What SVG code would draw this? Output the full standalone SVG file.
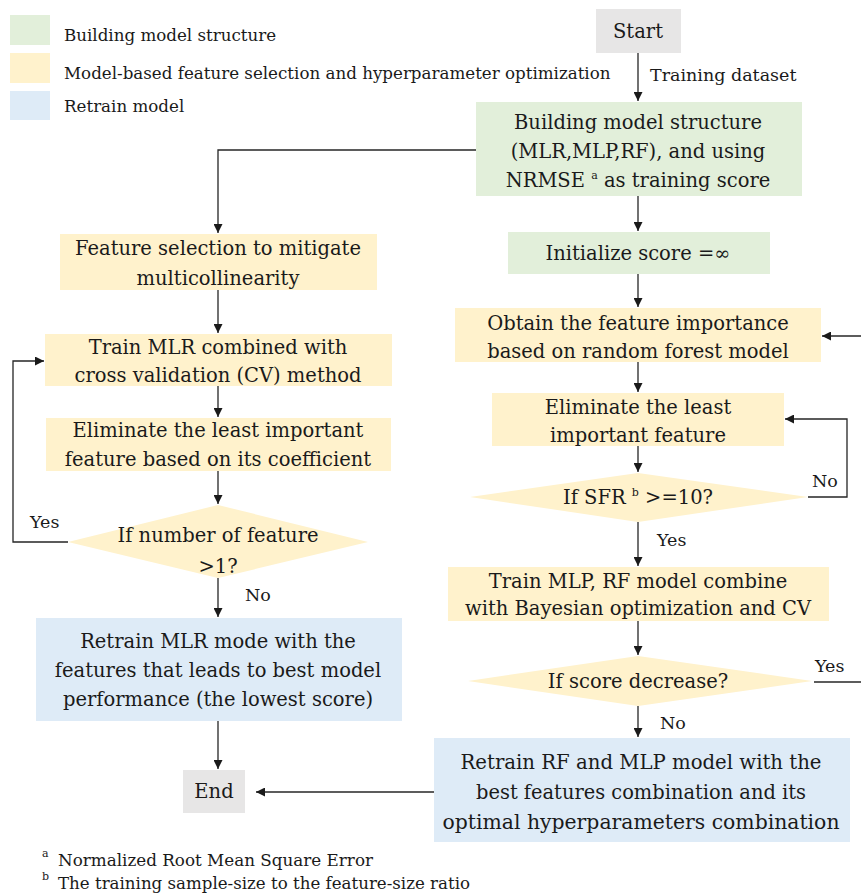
<svg xmlns="http://www.w3.org/2000/svg" width="861" height="896" viewBox="0 0 861 896">
<style>
text{fill:#1a1a1a;font-family:"DejaVu Serif","Liberation Serif",serif}
.t{font-size:19.5px;text-anchor:middle}
.lg{font-size:16.7px}
.lb{font-size:17.5px}
.g{fill:#e2efda}
.y{fill:#fff2cc}
.b{fill:#deebf7}
.s{fill:#e7e6e6}
.c path{fill:none;stroke:#262626;stroke-width:1.3}
.sup{font-size:11px}
</style>
<defs>
<marker id="ah" viewBox="0 0 10 10" refX="10" refY="5" markerWidth="9" markerHeight="9" markerUnits="userSpaceOnUse" orient="auto">
<path d="M0,0 L10,5 L0,10 z" fill="#1a1a1a"/>
</marker>
</defs>
<rect width="861" height="896" fill="#ffffff"/>
<g id="legend">
<rect class="g" x="10" y="15" width="40" height="30"/>
<rect class="y" x="10" y="53" width="40" height="30"/>
<rect class="b" x="10" y="91" width="40" height="29"/>
<text class="lg" x="64" y="41">Building model structure</text>
<text class="lg" x="64" y="79">Model-based feature selection and hyperparameter optimization</text>
<text class="lg" x="64" y="112">Retrain model</text>
</g>
<g class="c" id="connectors">
<path d="M638,53 V101" marker-end="url(#ah)"/>
<path d="M476,150 H218 V233" marker-end="url(#ah)"/>
<path d="M638,196 V231" marker-end="url(#ah)"/>
<path d="M638,274 V307" marker-end="url(#ah)"/>
<path d="M861,336 H822" marker-end="url(#ah)"/>
<path d="M638,362 V392" marker-end="url(#ah)"/>
<path d="M808,497 H847 V419 H785" marker-end="url(#ah)"/>
<path d="M638,446 V472" marker-end="url(#ah)"/>
<path d="M638,522 V566" marker-end="url(#ah)"/>
<path d="M638,621 V655" marker-end="url(#ah)"/>
<path d="M814,682 H861"/>
<path d="M638,706 V737" marker-end="url(#ah)"/>
<path d="M434,792 H256" marker-end="url(#ah)"/>
<path d="M218,290 V333" marker-end="url(#ah)"/>
<path d="M218,386 V417" marker-end="url(#ah)"/>
<path d="M218,471 V504" marker-end="url(#ah)"/>
<path d="M68,542 H13 V361 H44" marker-end="url(#ah)"/>
<path d="M218,578 V617" marker-end="url(#ah)"/>
<path d="M218,721 V769" marker-end="url(#ah)"/>
</g>
<g id="labels">
<text class="lb" x="650" y="81" font-size="15.5">Training dataset</text>
<text class="lb" x="30" y="528">Yes</text>
<text class="lb" x="245" y="601">No</text>
<text class="lb" x="812" y="487">No</text>
<text class="lb" x="657" y="546">Yes</text>
<text class="lb" x="815" y="672">Yes</text>
<text class="lb" x="660" y="729">No</text>
</g>
<g id="start">
<rect class="s" x="596" y="9" width="85" height="44"/>
<text class="t" x="638" y="38" font-size="19">Start</text>
</g>
<g id="build">
<rect class="g" x="476" y="102" width="326" height="94"/>
<text class="t" x="638" y="129">Building model structure</text>
<text class="t" x="638" y="158">(MLR,MLP,RF), and using</text>
<text class="t" x="638" y="187">NRMSE <tspan class="sup" dy="-8">a</tspan><tspan dy="8">  as training score</tspan></text>
</g>
<g id="init">
<rect class="g" x="508" y="232" width="262" height="42"/>
<text class="t" x="638" y="260">Initialize score =∞</text>
</g>
<g id="obtain">
<rect class="y" x="455" y="308" width="366" height="54"/>
<text class="t" x="638" y="330">Obtain the feature importance</text>
<text class="t" x="638" y="358">based  on random forest model</text>
</g>
<g id="elimR">
<rect class="y" x="492" y="393" width="292" height="53"/>
<text class="t" x="638" y="414">Eliminate the least</text>
<text class="t" x="638" y="442">important feature</text>
</g>
<g id="sfr">
<polygon class="y" points="470,497 638,473 808,497 638,522"/>
<text class="t" x="638" y="504">If SFR <tspan class="sup" dy="-8">b</tspan><tspan dy="8"> &gt;=10?</tspan></text>
</g>
<g id="trainMLP">
<rect class="y" x="448" y="567" width="381" height="54"/>
<text class="t" x="638" y="588">Train MLP, RF model combine</text>
<text class="t" x="638" y="615">with Bayesian optimization and CV</text>
</g>
<g id="score">
<polygon class="y" points="468,681 638,656 812,681 638,706"/>
<text class="t" x="638" y="688">If score decrease?</text>
</g>
<g id="retrainRF">
<rect class="b" x="434" y="738" width="416" height="104"/>
<text class="t" x="641" y="769" textLength="361" lengthAdjust="spacingAndGlyphs">Retrain RF and MLP model with the</text>
<text class="t" x="641" y="799" textLength="330" lengthAdjust="spacingAndGlyphs">best features combination and its</text>
<text class="t" x="641" y="829" textLength="397" lengthAdjust="spacingAndGlyphs">optimal hyperparameters combination</text>
</g>
<g id="featSel">
<rect class="y" x="60" y="234" width="317" height="56"/>
<text class="t" x="218" y="255">Feature selection to mitigate</text>
<text class="t" x="218" y="285">multicollinearity</text>
</g>
<g id="trainMLR">
<rect class="y" x="45" y="334" width="347" height="52"/>
<text class="t" x="218" y="354">Train MLR combined with</text>
<text class="t" x="218" y="382">cross validation (CV) method</text>
</g>
<g id="elimL">
<rect class="y" x="46" y="418" width="345" height="53"/>
<text class="t" x="218" y="437">Eliminate the least important</text>
<text class="t" x="218" y="466">feature based on its coefficient</text>
</g>
<g id="numFeat">
<polygon class="y" points="68,542 218,505 368,542 218,578"/>
<text class="t" x="218" y="542">If number of feature</text>
<text class="t" x="218" y="573">&gt;1?</text>
</g>
<g id="retrainMLR">
<rect class="b" x="36" y="618" width="366" height="103"/>
<text class="t" x="218" y="648">Retrain MLR mode with the</text>
<text class="t" x="218" y="677">features that leads to best model</text>
<text class="t" x="218" y="706">performance (the lowest score)</text>
</g>
<g id="end">
<rect class="s" x="183" y="770" width="62" height="43"/>
<text class="t" x="214" y="798" font-size="19">End</text>
</g>
<g id="footnotes">
<text x="42" y="857" font-size="11">a</text>
<text x="58" y="866" font-size="17" textLength="315" lengthAdjust="spacingAndGlyphs">Normalized Root Mean Square Error</text>
<text x="42" y="880" font-size="11">b</text>
<text x="58" y="889" font-size="17" textLength="412" lengthAdjust="spacingAndGlyphs">The training sample-size to the feature-size ratio</text>
</g>
</svg>
